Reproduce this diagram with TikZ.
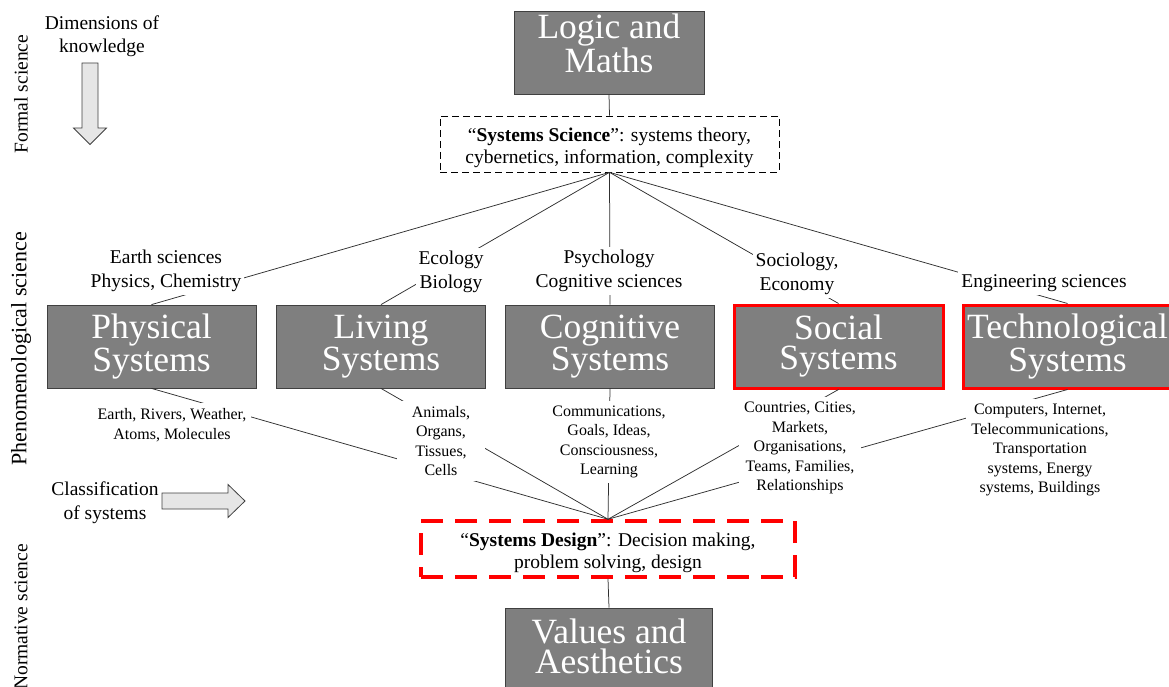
\documentclass[tikz,border=0pt]{standalone}
\usepackage{fontspec}
\setmainfont{Liberation Serif}
\definecolor{boxgray}{HTML}{7F7F7F}
\definecolor{boxline}{HTML}{404040}
\definecolor{hotred}{HTML}{FF0000}
\definecolor{arrowfill}{HTML}{E6E6E6}
\definecolor{linkgray}{HTML}{303030}
\begin{document}
\begin{tikzpicture}[x=1pt,y=-1pt,
  sysbox/.style={draw=boxline, line width=0.8pt, fill=boxgray, text=white,
    minimum width=209, minimum height=83, inner sep=0pt, align=center,
    font=\fontsize{35.5}{30}\selectfont},
  redbox/.style={sysbox, draw=hotred, line width=3pt},
  boxtext/.style={text=white, inner sep=0pt, align=center,
    font=\fontsize{35.5}{30}\selectfont},
  sciencebox/.style={draw=black, dash pattern=on 7pt off 4pt, line width=0.7pt,
    minimum width=339, minimum height=56, inner sep=0pt},
  designbox/.style={draw=hotred, line width=3.5pt, dash pattern=on 22pt off 12pt,
    minimum width=374, minimum height=56, inner sep=0pt},
  framedtext/.style={inner sep=0pt, align=center,
    font=\fontsize{19.5}{22}\selectfont},
  fieldlabel/.style={fill=white, inner sep=3pt, align=center,
    font=\fontsize{19.5}{23.5}\selectfont},
  examplelabel/.style={fill=white, inner sep=5pt, align=center,
    font=\fontsize{16}{19.5}\selectfont},
  sidelabel/.style={align=center, font=\fontsize{19.5}{23.5}\selectfont},
  axislabel/.style={rotate=90, font=\fontsize{19.5}{23.5}\selectfont},
  link/.style={draw=linkgray, line width=0.75pt},
  blockarrow/.style={draw=boxline, line width=0.8pt, fill=arrowfill}
]
\useasboundingbox (0,0) rectangle (1169,687);

% --- formal level ---
\node[sysbox, minimum width=190] (logic) at (609,52.5) {};
\node[boxtext] (logic-text) at (609,43.5) {Logic and\\Maths};
\node[sciencebox] (science) at (609.5,144) {};
\node[framedtext] (science-text) at (609.5,147.5)
  {“\textbf{Systems Science}”: systems theory,\\cybernetics, information, complexity};

% --- phenomenological level ---
\node[sysbox] (phys) at (151.5,346.5) {Physical\\Systems};
\node[sysbox] (living) at (381,346.5) {Living\\Systems};
\node[sysbox] (cogn) at (610,346.5) {Cognitive\\Systems};
\node[redbox] (social) at (838.5,346.5) {Social\\Systems};
\node[redbox] (tech) at (1067.5,346.5) {Technological\\Systems};

% --- normative level ---
\node[designbox] (design) at (608,549) {};
\node[framedtext] (design-text) at (608,553)
  {“\textbf{Systems Design}”: Decision making,\\problem solving, design};
\node[sysbox, minimum width=207] (values) at (609,649.5) {};
\node[boxtext] (values-text) at (609,646.5) {Values and\\Aesthetics};

% --- connectors ---
\draw[link] (logic.south) -- (science.north);
\draw[link] (design.south) -- (values.north);
\foreach \b in {phys,living,cogn,social,tech}{
  \draw[link] (science.south) -- (\b.north);
  \draw[link] (\b.south) -- (design.north);
}

% --- fields of study above the boxes ---
\node[fieldlabel] (fphys) at (166,271) {Earth sciences\\Physics, Chemistry};
\node[fieldlabel] (fliving) at (451,272) {Ecology\\Biology};
\node[fieldlabel] (fcogn) at (609,271) {Psychology\\Cognitive sciences};
\node[fieldlabel] (fsocial) at (797,274) {Sociology,\\Economy};
\node[fieldlabel] (ftech) at (1044,283) {Engineering sciences};

% --- examples below the boxes ---
\node[examplelabel] (ephys) at (172,425) {Earth, Rivers, Weather,\\Atoms, Molecules};
\node[examplelabel, minimum width=88] (eliving) at (441,441) {Animals,\\Organs,\\Tissues,\\Cells};
\node[examplelabel] (ecogn) at (609,442) {Communications,\\Goals, Ideas,\\Consciousness,\\Learning};
\node[examplelabel] (esocial) at (800,448) {Countries, Cities,\\Markets,\\Organisations,\\Teams, Families,\\Relationships};
\node[examplelabel] (etech) at (1040,450) {Computers, Internet,\\Telecommunications,\\Transportation\\systems, Energy\\systems, Buildings};

% --- dimensions on the left ---
\node[axislabel] (formal) at (21,94) {Formal science};
\node[axislabel, font=\fontsize{22}{26}\selectfont] (pheno) at (21,349) {Phenomenological science};
\node[axislabel] (normative) at (21,617) {Normative science};

\node[sidelabel] (dimlabel) at (102,36) {Dimensions of\\knowledge};
\filldraw[blockarrow] (82,63) -- (98,63) -- (98,128) -- (106.5,128) -- (90,144.5)
  -- (73.5,128) -- (82,128) -- cycle;

\node[sidelabel] (classlabel) at (105,502.5) {Classification\\of systems};
\filldraw[blockarrow] (162,493) -- (228,493) -- (228,484.5) -- (245,501)
  -- (228,517.5) -- (228,509) -- (162,509) -- cycle;
\end{tikzpicture}
\end{document}
